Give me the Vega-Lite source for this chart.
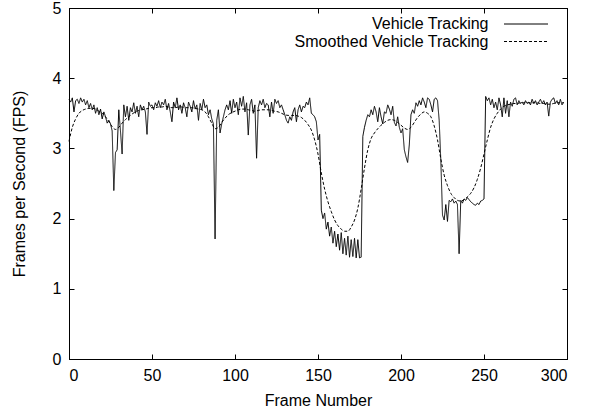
{
  "$schema": "https://vega.github.io/schema/vega-lite/v6.json",
  "width": 498,
  "height": 351,
  "autosize": {"type": "none"},
  "padding": {"left": 69, "top": 8, "right": 28, "bottom": 57},
  "background": "white",
  "datasets": {
    "raw": [
      {"f":0,"v":3.70},{"f":1,"v":3.66},{"f":2,"v":3.72},{"f":3,"v":3.52},{"f":4,"v":3.68},{"f":5,"v":3.70},{"f":6,"v":3.64},{"f":7,"v":3.72},{"f":8,"v":3.66},{"f":9,"v":3.70},
      {"f":10,"v":3.62},{"f":11,"v":3.68},{"f":12,"v":3.58},{"f":13,"v":3.64},{"f":14,"v":3.55},{"f":15,"v":3.62},{"f":16,"v":3.50},{"f":17,"v":3.58},{"f":18,"v":3.48},{"f":19,"v":3.56},
      {"f":20,"v":3.42},{"f":21,"v":3.52},{"f":22,"v":3.45},{"f":23,"v":3.36},{"f":24,"v":3.40},{"f":25,"v":3.35},{"f":26,"v":3.25},{"f":27,"v":2.40},{"f":28,"v":2.94},{"f":29,"v":2.98},
      {"f":30,"v":3.55},{"f":31,"v":3.25},{"f":32,"v":2.92},{"f":33,"v":3.62},{"f":34,"v":3.45},{"f":35,"v":3.60},{"f":36,"v":3.40},{"f":37,"v":3.58},{"f":38,"v":3.52},{"f":39,"v":3.65},
      {"f":40,"v":3.50},{"f":41,"v":3.60},{"f":42,"v":3.45},{"f":43,"v":3.62},{"f":44,"v":3.55},{"f":45,"v":3.60},{"f":46,"v":3.52},{"f":47,"v":3.20},{"f":48,"v":3.66},{"f":49,"v":3.60},
      {"f":50,"v":3.62},{"f":51,"v":3.55},{"f":52,"v":3.65},{"f":53,"v":3.60},{"f":54,"v":3.68},{"f":55,"v":3.58},{"f":56,"v":3.66},{"f":57,"v":3.62},{"f":58,"v":3.70},{"f":59,"v":3.55},
      {"f":60,"v":3.64},{"f":61,"v":3.52},{"f":62,"v":3.38},{"f":63,"v":3.66},{"f":64,"v":3.58},{"f":65,"v":3.72},{"f":66,"v":3.55},{"f":67,"v":3.62},{"f":68,"v":3.50},{"f":69,"v":3.65},
      {"f":70,"v":3.58},{"f":71,"v":3.45},{"f":72,"v":3.66},{"f":73,"v":3.60},{"f":74,"v":3.52},{"f":75,"v":3.68},{"f":76,"v":3.56},{"f":77,"v":3.62},{"f":78,"v":3.40},{"f":79,"v":3.64},
      {"f":80,"v":3.55},{"f":81,"v":3.70},{"f":82,"v":3.58},{"f":83,"v":3.62},{"f":84,"v":3.48},{"f":85,"v":3.55},{"f":86,"v":3.42},{"f":87,"v":3.35},{"f":88,"v":1.71},{"f":89,"v":3.40},
      {"f":90,"v":3.55},{"f":91,"v":3.22},{"f":92,"v":3.35},{"f":93,"v":3.45},{"f":94,"v":3.55},{"f":95,"v":3.62},{"f":96,"v":3.55},{"f":97,"v":3.68},{"f":98,"v":3.50},{"f":99,"v":3.70},
      {"f":100,"v":3.58},{"f":101,"v":3.66},{"f":102,"v":3.48},{"f":103,"v":3.72},{"f":104,"v":3.60},{"f":105,"v":3.74},{"f":106,"v":3.52},{"f":107,"v":3.65},{"f":108,"v":3.19},{"f":109,"v":3.62},
      {"f":110,"v":3.70},{"f":111,"v":3.50},{"f":112,"v":3.62},{"f":113,"v":2.86},{"f":114,"v":3.58},{"f":115,"v":3.68},{"f":116,"v":3.62},{"f":117,"v":3.70},{"f":118,"v":3.58},{"f":119,"v":3.64},
      {"f":120,"v":3.62},{"f":121,"v":3.45},{"f":122,"v":3.66},{"f":123,"v":3.50},{"f":124,"v":3.70},{"f":125,"v":3.64},{"f":126,"v":3.68},{"f":127,"v":3.58},{"f":128,"v":3.62},{"f":129,"v":3.55},
      {"f":130,"v":3.48},{"f":131,"v":3.40},{"f":132,"v":3.36},{"f":133,"v":3.45},{"f":134,"v":3.40},{"f":135,"v":3.52},{"f":136,"v":3.58},{"f":137,"v":3.38},{"f":138,"v":3.55},{"f":139,"v":3.62},
      {"f":140,"v":3.52},{"f":141,"v":3.60},{"f":142,"v":3.58},{"f":143,"v":3.66},{"f":144,"v":3.62},{"f":145,"v":3.72},{"f":146,"v":3.50},{"f":147,"v":3.48},{"f":148,"v":3.45},{"f":149,"v":3.38},
      {"f":150,"v":3.12},{"f":151,"v":3.20},{"f":152,"v":2.12},{"f":153,"v":2.00},{"f":154,"v":2.08},{"f":155,"v":1.85},{"f":156,"v":1.95},{"f":157,"v":1.75},{"f":158,"v":1.88},{"f":159,"v":1.65},
      {"f":160,"v":1.82},{"f":161,"v":1.60},{"f":162,"v":1.78},{"f":163,"v":1.55},{"f":164,"v":1.80},{"f":165,"v":1.50},{"f":166,"v":1.72},{"f":167,"v":1.48},{"f":168,"v":1.75},{"f":169,"v":1.45},
      {"f":170,"v":1.70},{"f":171,"v":1.46},{"f":172,"v":1.72},{"f":173,"v":1.44},{"f":174,"v":1.70},{"f":175,"v":1.44},{"f":176,"v":1.45},{"f":177,"v":3.17},{"f":178,"v":3.30},{"f":179,"v":3.40},
      {"f":180,"v":3.48},{"f":181,"v":3.45},{"f":182,"v":3.55},{"f":183,"v":3.48},{"f":184,"v":3.60},{"f":185,"v":3.52},{"f":186,"v":3.38},{"f":187,"v":3.58},{"f":188,"v":3.45},{"f":189,"v":3.35},
      {"f":190,"v":3.52},{"f":191,"v":3.50},{"f":192,"v":3.62},{"f":193,"v":3.56},{"f":194,"v":3.48},{"f":195,"v":3.60},{"f":196,"v":3.37},{"f":197,"v":3.32},{"f":198,"v":3.45},{"f":199,"v":3.30},
      {"f":200,"v":3.22},{"f":201,"v":3.28},{"f":202,"v":2.98},{"f":203,"v":2.88},{"f":204,"v":2.80},{"f":205,"v":3.05},{"f":206,"v":3.48},{"f":207,"v":3.55},{"f":208,"v":3.50},{"f":209,"v":3.65},
      {"f":210,"v":3.60},{"f":211,"v":3.68},{"f":212,"v":3.62},{"f":213,"v":3.72},{"f":214,"v":3.66},{"f":215,"v":3.58},{"f":216,"v":3.72},{"f":217,"v":3.70},{"f":218,"v":3.62},{"f":219,"v":3.52},
      {"f":220,"v":3.70},{"f":221,"v":3.72},{"f":222,"v":3.68},{"f":223,"v":3.40},{"f":224,"v":2.82},{"f":225,"v":2.05},{"f":226,"v":1.98},{"f":227,"v":2.20},{"f":228,"v":1.96},{"f":229,"v":2.26},
      {"f":230,"v":2.24},{"f":231,"v":2.28},{"f":232,"v":2.22},{"f":233,"v":2.25},{"f":234,"v":2.20},{"f":235,"v":1.50},{"f":236,"v":2.26},{"f":237,"v":2.22},{"f":238,"v":2.28},{"f":239,"v":2.26},
      {"f":240,"v":2.30},{"f":241,"v":2.27},{"f":242,"v":2.24},{"f":243,"v":2.22},{"f":244,"v":2.20},{"f":245,"v":2.19},{"f":246,"v":2.22},{"f":247,"v":2.20},{"f":248,"v":2.25},{"f":249,"v":2.26},
      {"f":250,"v":2.28},{"f":251,"v":3.74},{"f":252,"v":3.68},{"f":253,"v":3.72},{"f":254,"v":3.62},{"f":255,"v":3.70},{"f":256,"v":3.58},{"f":257,"v":3.66},{"f":258,"v":3.55},{"f":259,"v":3.72},
      {"f":260,"v":3.62},{"f":261,"v":3.45},{"f":262,"v":3.72},{"f":263,"v":3.50},{"f":264,"v":3.68},{"f":265,"v":3.45},{"f":266,"v":3.66},{"f":267,"v":3.60},{"f":268,"v":3.70},{"f":269,"v":3.72},
      {"f":270,"v":3.62},{"f":271,"v":3.68},{"f":272,"v":3.64},{"f":273,"v":3.66},{"f":274,"v":3.62},{"f":275,"v":3.68},{"f":276,"v":3.64},{"f":277,"v":3.66},{"f":278,"v":3.62},{"f":279,"v":3.70},
      {"f":280,"v":3.64},{"f":281,"v":3.68},{"f":282,"v":3.62},{"f":283,"v":3.66},{"f":284,"v":3.70},{"f":285,"v":3.64},{"f":286,"v":3.68},{"f":287,"v":3.62},{"f":288,"v":3.66},{"f":289,"v":3.46},
      {"f":290,"v":3.66},{"f":291,"v":3.70},{"f":292,"v":3.72},{"f":293,"v":3.64},{"f":294,"v":3.68},{"f":295,"v":3.62},{"f":296,"v":3.70},{"f":297,"v":3.62},{"f":298,"v":3.66}
    ],
    "smooth": [
      {"f":0,"v":3.10},{"f":2,"v":3.30},{"f":4,"v":3.42},{"f":6,"v":3.50},{"f":8,"v":3.54},{"f":10,"v":3.56},{"f":12,"v":3.57},{"f":14,"v":3.57},{"f":16,"v":3.56},{"f":18,"v":3.53},
      {"f":20,"v":3.50},{"f":22,"v":3.45},{"f":24,"v":3.38},{"f":26,"v":3.31},{"f":28,"v":3.27},{"f":30,"v":3.30},{"f":32,"v":3.36},{"f":34,"v":3.41},{"f":36,"v":3.45},{"f":38,"v":3.49},
      {"f":40,"v":3.52},{"f":42,"v":3.54},{"f":44,"v":3.55},{"f":46,"v":3.56},{"f":48,"v":3.57},{"f":50,"v":3.58},{"f":52,"v":3.58},{"f":54,"v":3.59},{"f":56,"v":3.59},{"f":58,"v":3.60},
      {"f":60,"v":3.59},{"f":62,"v":3.58},{"f":64,"v":3.58},{"f":66,"v":3.59},{"f":68,"v":3.59},{"f":70,"v":3.58},{"f":72,"v":3.58},{"f":74,"v":3.58},{"f":76,"v":3.57},{"f":78,"v":3.56},
      {"f":80,"v":3.55},{"f":82,"v":3.52},{"f":84,"v":3.45},{"f":86,"v":3.36},{"f":88,"v":3.28},{"f":90,"v":3.30},{"f":92,"v":3.37},{"f":94,"v":3.43},{"f":96,"v":3.48},{"f":98,"v":3.51},
      {"f":100,"v":3.53},{"f":102,"v":3.55},{"f":104,"v":3.56},{"f":106,"v":3.56},{"f":108,"v":3.55},{"f":110,"v":3.54},{"f":112,"v":3.53},{"f":114,"v":3.54},{"f":116,"v":3.55},{"f":118,"v":3.55},
      {"f":120,"v":3.55},{"f":122,"v":3.54},{"f":124,"v":3.53},{"f":126,"v":3.52},{"f":128,"v":3.50},{"f":130,"v":3.48},{"f":132,"v":3.47},{"f":134,"v":3.47},{"f":136,"v":3.47},{"f":138,"v":3.46},
      {"f":140,"v":3.44},{"f":142,"v":3.40},{"f":144,"v":3.34},{"f":146,"v":3.26},{"f":148,"v":3.12},{"f":150,"v":2.92},{"f":152,"v":2.65},{"f":154,"v":2.42},{"f":156,"v":2.24},{"f":158,"v":2.10},
      {"f":160,"v":1.98},{"f":162,"v":1.90},{"f":164,"v":1.85},{"f":166,"v":1.82},{"f":168,"v":1.82},{"f":170,"v":1.88},{"f":172,"v":1.98},{"f":174,"v":2.15},{"f":176,"v":2.42},{"f":178,"v":2.72},
      {"f":180,"v":2.98},{"f":182,"v":3.14},{"f":184,"v":3.22},{"f":186,"v":3.28},{"f":188,"v":3.33},{"f":190,"v":3.37},{"f":192,"v":3.40},{"f":194,"v":3.41},{"f":196,"v":3.40},{"f":198,"v":3.37},
      {"f":200,"v":3.33},{"f":202,"v":3.29},{"f":204,"v":3.27},{"f":206,"v":3.30},{"f":208,"v":3.37},{"f":210,"v":3.44},{"f":212,"v":3.49},{"f":214,"v":3.52},{"f":216,"v":3.50},{"f":218,"v":3.45},
      {"f":220,"v":3.32},{"f":222,"v":3.12},{"f":224,"v":2.85},{"f":226,"v":2.62},{"f":228,"v":2.47},{"f":230,"v":2.36},{"f":232,"v":2.30},{"f":234,"v":2.26},{"f":236,"v":2.25},{"f":238,"v":2.27},
      {"f":240,"v":2.31},{"f":242,"v":2.36},{"f":244,"v":2.44},{"f":246,"v":2.56},{"f":248,"v":2.72},{"f":250,"v":2.92},{"f":252,"v":3.12},{"f":254,"v":3.30},{"f":256,"v":3.42},{"f":258,"v":3.50},
      {"f":260,"v":3.56},{"f":262,"v":3.60},{"f":264,"v":3.62},{"f":266,"v":3.63},{"f":268,"v":3.64},{"f":270,"v":3.64},{"f":272,"v":3.65},{"f":274,"v":3.65},{"f":276,"v":3.65},{"f":278,"v":3.65},
      {"f":280,"v":3.65},{"f":282,"v":3.65},{"f":284,"v":3.64},{"f":286,"v":3.64},{"f":288,"v":3.63},{"f":290,"v":3.63},{"f":292,"v":3.64},{"f":294,"v":3.65},{"f":296,"v":3.65},{"f":298,"v":3.65}
    ]
  },
  "layer": [
    {
      "data": {"name": "raw"},
      "mark": {"type": "line", "color": "black", "strokeWidth": 1},
      "encoding": {
        "x": {"field": "f", "type": "quantitative", "scale": {"domain": [0, 300], "nice": false, "zero": false},
              "axis": {"title": "Frame Number", "values": [0, 50, 100, 150, 200, 250, 300], "orient": "bottom"}},
        "y": {"field": "v", "type": "quantitative", "scale": {"domain": [0, 5], "nice": false},
              "axis": {"title": "Frames per Second (FPS)", "values": [0, 1, 2, 3, 4, 5], "orient": "left"}},
        "strokeDash": {"datum": "Vehicle Tracking", "type": "nominal",
              "scale": {"domain": ["Vehicle Tracking", "Smoothed Vehicle Tracking"], "range": [[1, 0], [3, 2]]},
              "legend": {"title": null}}
      }
    },
    {
      "data": {"name": "smooth"},
      "mark": {"type": "line", "color": "black", "strokeWidth": 1, "interpolate": "monotone"},
      "encoding": {
        "x": {"field": "f", "type": "quantitative",
              "axis": {"title": null, "labels": false, "values": [0, 50, 100, 150, 200, 250, 300], "orient": "top"}},
        "y": {"field": "v", "type": "quantitative",
              "axis": {"title": null, "labels": false, "values": [0, 1, 2, 3, 4, 5], "orient": "right"}},
        "strokeDash": {"datum": "Smoothed Vehicle Tracking", "type": "nominal"}
      }
    }
  ],
  "resolve": {"axis": {"x": "independent", "y": "independent"}},
  "config": {
    "view": {"stroke": "black", "strokeWidth": 1},
    "axis": {
      "grid": false,
      "domainColor": "black",
      "domainWidth": 1,
      "tickColor": "black",
      "tickWidth": 1,
      "tickSize": -5,
      "labelColor": "black",
      "labelFont": "Liberation Sans",
      "labelFontSize": 16,
      "labelPadding": 13,
      "titleColor": "black",
      "titleFont": "Liberation Sans",
      "titleFontSize": 16,
      "titleFontWeight": "normal"
    },
    "axisX": {"titlePadding": 9},
    "axisY": {"titlePadding": 25},
    "legend": {
      "orient": "none",
      "legendX": 449,
      "legendY": 8,
      "padding": 0,
      "rowPadding": 1.5,
      "symbolType": "M-4,0H4",
      "symbolSize": 121,
      "symbolStrokeWidth": 1,
      "symbolStrokeColor": "black",
      "labelAlign": "right",
      "labelOffset": -45.5,
      "labelLimit": 400,
      "labelFont": "Liberation Sans",
      "labelFontSize": 16,
      "labelColor": "black"
    }
  }
}
